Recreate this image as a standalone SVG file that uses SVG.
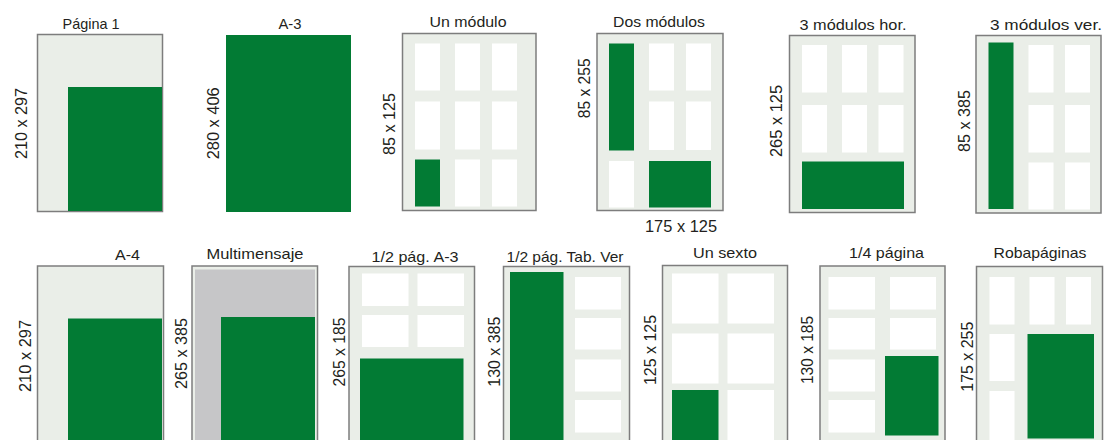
<svg xmlns="http://www.w3.org/2000/svg" width="1109" height="440" viewBox="0 0 1109 440">
<style>
.bg{fill:#ffffff}
.frame{fill:#eaeee8;stroke:#7d7d7d;stroke-width:1.5}
.g{fill:#027b34}
.w{fill:#ffffff}
.gray{fill:#c6c6c8}
.t{font-family:"Liberation Sans",Arial,sans-serif;font-size:15px;fill:#231f20;text-anchor:middle}
.r{font-family:"Liberation Sans",Arial,sans-serif;font-size:16px;fill:#231f20;text-anchor:middle}
</style>
<rect class="bg" x="0" y="0" width="1109" height="440"/>
<g id="pagina1">
<rect class="frame" x="37.5" y="34.5" width="125" height="177"/>
<rect class="g" x="68" y="87" width="94" height="124"/>
<text class="t" x="91" y="29" textLength="57" lengthAdjust="spacingAndGlyphs">Página 1</text>
<text class="r" transform="translate(27,123.5) rotate(-90)" textLength="71" lengthAdjust="spacingAndGlyphs">210 x 297</text>
</g>
<g id="a3">
<rect class="g" x="226" y="35" width="125" height="177"/>
<text class="t" x="290" y="29" textLength="23" lengthAdjust="spacingAndGlyphs">A-3</text>
<text class="r" transform="translate(218.5,123.3) rotate(-90)" textLength="72" lengthAdjust="spacingAndGlyphs">280 x 406</text>
</g>
<g id="unmodulo">
<rect class="frame" x="402.5" y="33.5" width="133.5" height="177"/>
<rect class="w" x="415" y="43.5" width="25" height="47"/>
<rect class="w" x="455" y="43.5" width="25" height="47"/>
<rect class="w" x="492" y="43.5" width="25" height="47"/>
<rect class="w" x="415" y="101.5" width="25" height="48"/>
<rect class="w" x="455" y="101.5" width="25" height="48"/>
<rect class="w" x="492" y="101.5" width="25" height="48"/>
<rect class="g" x="415" y="159.5" width="25" height="47"/>
<rect class="w" x="455" y="159.5" width="25" height="47"/>
<rect class="w" x="492" y="159.5" width="25" height="47"/>
<text class="t" x="468" y="26.5" textLength="77" lengthAdjust="spacingAndGlyphs">Un módulo</text>
<text class="r" transform="translate(395,124) rotate(-90)" textLength="62" lengthAdjust="spacingAndGlyphs">85 x 125</text>
</g>
<g id="dosmodulos">
<rect class="frame" x="597" y="33.5" width="126" height="177"/>
<rect class="g" x="609" y="43.5" width="25" height="107"/>
<rect class="w" x="649" y="43.5" width="25" height="47"/>
<rect class="w" x="686" y="43.5" width="25" height="47"/>
<rect class="w" x="649" y="101.5" width="25" height="48.5"/>
<rect class="w" x="686" y="101.5" width="25" height="48.5"/>
<rect class="w" x="609" y="161" width="25" height="46.5"/>
<rect class="g" x="649" y="161" width="62" height="46.5"/>
<text class="t" x="659" y="26.5" textLength="92" lengthAdjust="spacingAndGlyphs">Dos módulos</text>
<text class="r" transform="translate(590,88.3) rotate(-90)" textLength="60" lengthAdjust="spacingAndGlyphs">85 x 255</text>
<text class="r" x="681" y="232" textLength="72" lengthAdjust="spacingAndGlyphs">175 x 125</text>
</g>
<g id="tresmodhor">
<rect class="frame" x="789.5" y="35.5" width="125.5" height="177"/>
<rect class="w" x="802" y="45" width="25" height="47.5"/>
<rect class="w" x="842" y="45" width="25" height="47.5"/>
<rect class="w" x="878.5" y="45" width="25" height="47.5"/>
<rect class="w" x="802" y="105" width="25" height="47.5"/>
<rect class="w" x="842" y="105" width="25" height="47.5"/>
<rect class="w" x="878.5" y="105" width="25" height="47.5"/>
<rect class="g" x="802" y="161.5" width="102" height="47.5"/>
<text class="t" x="853" y="29.5" textLength="107" lengthAdjust="spacingAndGlyphs">3 módulos hor.</text>
<text class="r" transform="translate(781.5,121) rotate(-90)" textLength="72" lengthAdjust="spacingAndGlyphs">265 x 125</text>
</g>
<g id="tresmodver">
<rect class="frame" x="976" y="35.5" width="125" height="177.5"/>
<rect class="g" x="988.5" y="42.5" width="25" height="166.5"/>
<rect class="w" x="1028.5" y="45" width="25" height="47.5"/>
<rect class="w" x="1065" y="45" width="25" height="47.5"/>
<rect class="w" x="1028.5" y="105" width="25" height="47.5"/>
<rect class="w" x="1065" y="105" width="25" height="47.5"/>
<rect class="w" x="1028.5" y="162.5" width="25" height="47"/>
<rect class="w" x="1065" y="162.5" width="25" height="47"/>
<text class="t" x="1046" y="30" textLength="112" lengthAdjust="spacingAndGlyphs">3 módulos ver.</text>
<text class="r" transform="translate(970,121) rotate(-90)" textLength="62" lengthAdjust="spacingAndGlyphs">85 x 385</text>
</g>
<g id="a4">
<rect class="frame" x="37.5" y="266" width="126" height="190"/>
<rect class="g" x="68" y="318.5" width="94" height="130"/>
<text class="t" x="127.5" y="260" textLength="25" lengthAdjust="spacingAndGlyphs">A-4</text>
<text class="r" transform="translate(30.5,356) rotate(-90)" textLength="72" lengthAdjust="spacingAndGlyphs">210 x 297</text>
</g>
<g id="multimensaje">
<rect class="frame" x="192" y="266" width="125.5" height="190"/>
<rect class="gray" x="195" y="269.5" width="120" height="180"/>
<rect class="g" x="221" y="317" width="94" height="130"/>
<text class="t" x="255" y="258.5" textLength="97" lengthAdjust="spacingAndGlyphs">Multimensaje</text>
<text class="r" transform="translate(186.5,353.5) rotate(-90)" textLength="71" lengthAdjust="spacingAndGlyphs">265 x 385</text>
</g>
<g id="mediaa3">
<rect class="frame" x="349" y="266.5" width="125.5" height="190"/>
<rect class="w" x="362" y="273.5" width="46.5" height="32.5"/>
<rect class="w" x="417.5" y="273.5" width="46.5" height="32.5"/>
<rect class="w" x="362" y="315" width="46.5" height="32"/>
<rect class="w" x="417.5" y="315" width="46.5" height="32"/>
<rect class="g" x="360" y="358.5" width="103.5" height="90"/>
<text class="t" x="415" y="262" textLength="87" lengthAdjust="spacingAndGlyphs">1/2 pág. A-3</text>
<text class="r" transform="translate(345,352) rotate(-90)" textLength="69" lengthAdjust="spacingAndGlyphs">265 x 185</text>
</g>
<g id="mediatabver">
<rect class="frame" x="503.5" y="266.5" width="126" height="190"/>
<rect class="g" x="510" y="272" width="53.5" height="180"/>
<rect class="w" x="575" y="277" width="46" height="32.5"/>
<rect class="w" x="575" y="318" width="46" height="31.5"/>
<rect class="w" x="575" y="359.5" width="46" height="32"/>
<rect class="w" x="575" y="400" width="46" height="32.5"/>
<text class="t" x="565" y="262" textLength="117" lengthAdjust="spacingAndGlyphs">1/2 pág. Tab. Ver</text>
<text class="r" transform="translate(500,351.7) rotate(-90)" textLength="70" lengthAdjust="spacingAndGlyphs">130 x 385</text>
</g>
<g id="unsexto">
<rect class="frame" x="662.5" y="265.5" width="125" height="190"/>
<rect class="w" x="672" y="273.5" width="46.5" height="50"/>
<rect class="w" x="727.5" y="273.5" width="46.5" height="50"/>
<rect class="w" x="672" y="333.5" width="46.5" height="50"/>
<rect class="w" x="727.5" y="333.5" width="46.5" height="50"/>
<rect class="g" x="672" y="390" width="46.5" height="60"/>
<rect class="w" x="727.5" y="390" width="46.5" height="60"/>
<text class="t" x="725" y="257.5" textLength="64" lengthAdjust="spacingAndGlyphs">Un sexto</text>
<text class="r" transform="translate(656,350) rotate(-90)" textLength="70" lengthAdjust="spacingAndGlyphs">125 x 125</text>
</g>
<g id="cuartopagina">
<rect class="frame" x="820" y="266" width="125" height="190"/>
<rect class="w" x="828.5" y="277" width="46.5" height="32.5"/>
<rect class="w" x="890" y="277" width="46" height="32.5"/>
<rect class="w" x="828.5" y="318" width="46.5" height="31.5"/>
<rect class="w" x="890" y="318" width="46" height="31.5"/>
<rect class="w" x="828.5" y="359.5" width="46.5" height="32"/>
<rect class="w" x="828.5" y="400" width="46.5" height="32.5"/>
<rect class="g" x="885" y="356" width="53.5" height="79.5"/>
<text class="t" x="886.5" y="257.5" textLength="75" lengthAdjust="spacingAndGlyphs">1/4 página</text>
<text class="r" transform="translate(813.3,350) rotate(-90)" textLength="68" lengthAdjust="spacingAndGlyphs">130 x 185</text>
</g>
<g id="robapaginas">
<rect class="frame" x="976.5" y="266.5" width="126" height="190"/>
<rect class="w" x="989.5" y="277" width="25" height="47.5"/>
<rect class="w" x="1029.5" y="277" width="25" height="47.5"/>
<rect class="w" x="1066" y="277" width="25" height="47.5"/>
<rect class="w" x="989.5" y="334" width="25" height="47"/>
<rect class="w" x="989.5" y="391" width="25" height="60"/>
<rect class="g" x="1027.5" y="334" width="66.5" height="104.5"/>
<text class="t" x="1040" y="257.5" textLength="93" lengthAdjust="spacingAndGlyphs">Robapáginas</text>
<text class="r" transform="translate(972.5,356.7) rotate(-90)" textLength="70" lengthAdjust="spacingAndGlyphs">175 x 255</text>
</g>
<g id="connectors"/>
</svg>
